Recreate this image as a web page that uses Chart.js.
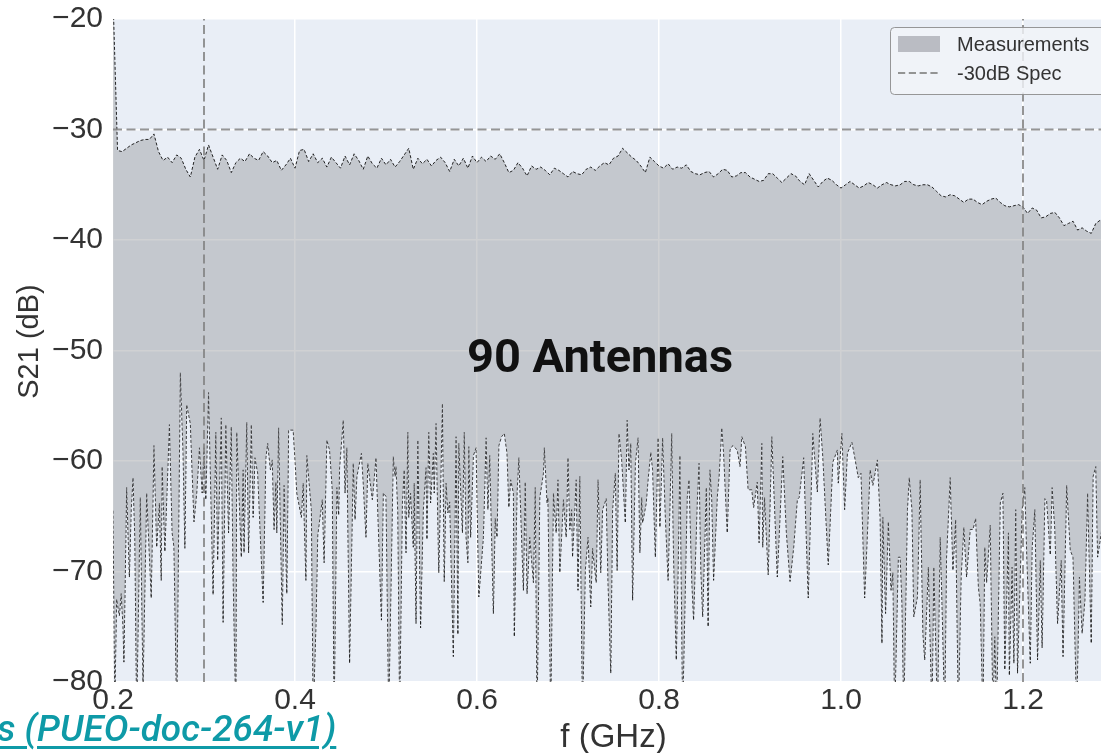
<!DOCTYPE html>
<html>
<head>
<meta charset="utf-8">
<script src="https://cdn.jsdelivr.net/npm/chart.js@4.4.1/dist/chart.umd.min.js"></script>
<style>
  html, body { margin: 0; padding: 0; background: #fff; overflow: hidden; width: 1101px; height: 753px; }
  #wrap { position: absolute; left: 0; top: 0; width: 1130px; height: 753px; }
  #antennas {
    position: absolute; left: 600px; top: 355px; transform: translate(-50%, -50%);
    font: bold 47px Roboto, "Noto Sans", sans-serif; color: #111; line-height: 1; white-space: nowrap;
  }
  #doclink {
    position: absolute; left: -3px; top: 710px;
    font: italic 500 37px Roboto, "Noto Sans", sans-serif; color: #0e9aa7; line-height: 1;
    text-decoration: underline; text-decoration-thickness: 3px; text-underline-offset: 5px; white-space: nowrap;
  }
</style>
</head>
<body>
<div id="wrap"><canvas id="s21Chart"></canvas></div>
<div id="antennas">90 Antennas</div>
<a id="doclink" href="#">s (PUEO-doc-264-v1)</a>
<script>
// upper envelope (max over all antennas), 5 MHz sweep starting at 200 MHz
const sweepStart = 0.2;
const sweepStep = 0.005;
const maxDb = [
  -18, -31.9, -32.0, -31.7, -31.4, -31.2, -31.0, -30.9, -30.9, -30.4,
  -32.0, -32.8, -32.5, -33.0, -32.3, -32.6, -33.6, -34.3, -32.5, -31.8,
  -32.8, -31.4, -32.5, -33.6, -32.3, -32.8, -33.9, -33.0, -32.6, -32.9,
  -32.2, -32.6, -32.8, -32.0, -32.4, -33.0, -32.8, -33.7, -33.2, -32.6,
  -33.5, -31.9, -31.8, -32.9, -32.2, -33.0, -32.6, -33.4, -32.5, -33.0,
  -33.5, -32.4, -33.2, -32.2, -32.8, -33.6, -32.4, -33.1, -33.5, -32.6,
  -33.2, -32.7, -33.4, -32.9, -32.3, -31.7, -33.6, -32.6, -33.1, -32.7,
  -33.3, -32.8, -32.5, -33.0, -33.8, -32.7, -33.3, -32.6, -33.5, -32.4,
  -33.0, -32.5, -32.9, -32.4, -32.7, -32.2, -33.0, -33.9, -33.7, -33.0,
  -33.5, -34.2, -33.3, -33.6, -33.4, -33.7, -34.1, -33.5, -33.7, -34.0,
  -34.3, -33.8, -34.0, -34.1, -33.6, -33.4, -33.7, -33.3, -33.0, -33.2,
  -32.6, -32.4, -31.7, -32.1, -32.5, -32.8, -33.3, -33.9, -32.5, -32.9,
  -33.3, -33.5, -33.1, -33.6, -33.4, -33.5, -33.2, -33.8, -34.0, -34.1,
  -33.9, -33.8, -34.3, -34.0, -33.6, -33.7, -34.3, -34.2, -33.9, -33.9,
  -34.3, -34.5, -34.7, -34.6, -34.0, -34.0, -34.4, -34.8, -34.4, -34.0,
  -34.2, -34.7, -35.0, -34.0, -34.6, -35.2, -34.7, -34.4, -34.6, -35.0,
  -35.3, -35.0, -34.7, -35.0, -35.3, -35.1, -34.8, -35.0, -35.3, -35.0,
  -34.8, -35.0, -35.1, -35.0, -34.7, -34.7, -35.0, -35.1, -35.0, -35.0,
  -35.2, -35.6, -36.0, -36.1, -35.9, -36.0, -36.3, -36.6, -36.3, -36.3,
  -36.6, -36.8, -36.5, -36.3, -36.2, -36.6, -36.9, -37.0, -36.9, -36.8,
  -37.0, -37.6, -37.1, -37.3, -38.0, -37.9, -37.6, -37.5, -38.0, -38.7,
  -38.5, -38.3, -39.1, -38.9, -39.2, -39.4, -38.5, -38.2, -38.0, -38.1,
  -37.9
];

// lower envelope (min over all antennas)
const minMHz = [
  200, 202, 204, 207, 209, 211, 212, 215, 218, 220,
  222, 224, 226, 230, 233, 237, 242, 245, 248, 251,
  253, 254, 257, 262, 265, 267, 270, 274, 277, 279,
  281, 285, 289, 292, 295, 298, 300, 302, 305, 310,
  313, 315, 319, 321, 324, 327, 330, 332, 335, 336,
  341, 343, 344, 347, 349, 352, 354, 356, 359, 365,
  368, 370, 373, 375, 377, 379, 380, 382, 386, 388,
  391, 393, 398, 400, 402, 407, 409, 412, 413, 418,
  420, 423, 425, 430, 432, 435, 438, 441, 443, 446,
  448, 449, 453, 455, 457, 460, 464, 466, 468, 473,
  475, 478, 480, 485, 489, 495, 497, 500, 503, 508,
  510, 511, 513, 515, 518, 520, 522, 524, 525, 527,
  530, 531, 533, 535, 538, 541, 544, 545, 547, 549,
  552, 553, 555, 558, 562, 564, 566, 568, 570, 574,
  577, 579, 580, 584, 586, 588, 590, 591, 593, 596,
  599, 602, 607, 610, 612, 614, 618, 620, 622, 624,
  627, 630, 633, 635, 637, 640, 641, 644, 646, 651,
  653, 655, 658, 662, 664, 666, 669, 673, 674, 677,
  678, 681, 684, 687, 689, 691, 695, 698, 700, 702,
  704, 705, 709, 711, 713, 716, 719, 722, 725, 727,
  731, 733, 736, 738, 742, 744, 747, 749, 752, 754,
  756, 759, 763, 765, 767, 769, 771, 774, 777, 779,
  781, 782, 786, 788, 791, 793, 796, 799, 801, 804,
  807, 810, 814, 816, 819, 821, 823, 826, 831, 833,
  836, 838, 842, 844, 846, 848, 852, 854, 856, 858,
  860, 864, 866, 869, 871, 875, 878, 881, 886, 889,
  891, 895, 898, 902, 904, 908, 910, 913, 914, 916,
  920, 924, 930, 936, 940, 944, 948, 952, 954, 959,
  964, 969, 974, 977, 980, 986, 991, 996, 997, 1001,
  1004, 1007, 1012, 1015, 1019, 1022, 1026, 1032, 1035, 1040,
  1043, 1045, 1046, 1049, 1052, 1055, 1057, 1059, 1063, 1065,
  1067, 1069, 1073, 1075, 1078, 1080, 1084, 1087, 1090, 1092,
  1096, 1100, 1102, 1106, 1109, 1111, 1114, 1116, 1120, 1123,
  1126, 1129, 1132, 1135, 1138, 1142, 1145, 1148, 1151, 1153,
  1156, 1158, 1160, 1164, 1167, 1169, 1171, 1175, 1178, 1180,
  1184, 1185, 1188, 1190, 1192, 1194, 1199, 1202, 1204, 1208,
  1210, 1213, 1216, 1219, 1221, 1224, 1226, 1230, 1232, 1235,
  1238, 1242, 1244, 1248, 1252, 1255, 1259, 1262, 1265, 1268,
  1271, 1275, 1277, 1280, 1282, 1286, 1290, 1296, 1300
];
const minDb = [
  -64.5, -82, -72.5, -74, -72, -75, -78.2, -62.4, -70.5, -64.4,
  -61.5, -67, -83, -63.3, -80.5, -62.9, -72.4, -58.6, -67.8, -63.8,
  -70.8, -60.5, -68.2, -56.7, -66.5, -67.8, -83, -52.0, -59.3, -67.9,
  -54.9, -56.6, -65.5, -62.9, -58.8, -62.9, -58.8, -63.5, -53.8, -72.1,
  -57.4, -69, -56.1, -74.6, -56.7, -66.5, -56.9, -70.5, -83, -57.4,
  -68.7, -60.8, -68.3, -56.5, -68.3, -56.7, -65.1, -59.7, -61.1, -72.8,
  -59.7, -58.4, -60.8, -59.9, -66.2, -61.9, -66.5, -57, -74.8, -62.2,
  -72, -57.2, -57.2, -59.9, -62.9, -65.1, -62, -70.8, -59.5, -64.4,
  -83, -75, -66.7, -63.5, -69.2, -58.1, -59, -62.6, -83, -62.4,
  -64.9, -60.6, -56.3, -62.9, -58.8, -78.3, -60.2, -65.3, -61.4, -59.3,
  -62, -66.9, -60.2, -63.5, -59.7, -74.4, -62.9, -63.2, -83, -59.6,
  -61.4, -60.5, -64.7, -83, -63.8, -60.8, -68.3, -57.4, -65.1, -62.9,
  -67.8, -62, -74.7, -58.1, -75.1, -64.4, -60.6, -67.1, -57.4, -63.8,
  -59.3, -62.9, -56.6, -70.1, -54.8, -70.9, -62, -64.7, -63.7, -77.7,
  -57.8, -75.7, -58.4, -66.5, -57.4, -66.9, -69.2, -58.7, -66.9, -59.5,
  -58.8, -72.3, -66.9, -57.9, -64.4, -59.5, -73.8, -65.2, -66.9, -58.6,
  -57.8, -57.5, -59.3, -64.2, -61.7, -62.9, -75.9, -62.9, -59.7, -71.7,
  -61.9, -72, -66.9, -71, -62.4, -83, -63.3, -61.1, -58.8, -63.8,
  -63.3, -83, -62.9, -66.5, -61.7, -70.1, -63.5, -66.9, -59.7, -66.2,
  -64.4, -68.7, -61.7, -71.7, -61.4, -83, -69.9, -66.9, -73.2, -67.9,
  -71, -61.7, -70.1, -64.4, -63.4, -71, -79.2, -64.4, -61.1, -69.9,
  -57.5, -59.9, -65.6, -56.3, -60.8, -58.4, -72.6, -60.2, -57.9, -68.3,
  -63.3, -65.6, -63.8, -61.7, -59.2, -60.8, -68.7, -57.9, -66, -57.9,
  -65.1, -70.8, -57.5, -68.7, -78, -69.9, -59.5, -83, -63.3, -61.7,
  -70.8, -74.4, -63.8, -60.2, -69.9, -74.1, -62.4, -75, -60.8, -63.5,
  -70.8, -63.3, -61.4, -57, -59.3, -66.5, -59, -58.6, -59, -60.5,
  -57.8, -58.7, -62.6, -62.6, -64.2, -61.9, -67.4, -58.4, -67.8, -63.3,
  -70.3, -57.8, -70.5, -59.6, -66.5, -70.9, -67.8, -63.5, -63.3, -59.7,
  -72.4, -57.5, -62.8, -56.1, -59.6, -69.4, -60.1, -59, -62, -57.5,
  -64.4, -59.3, -58.3, -59.6, -61.5, -61.1, -72.4, -60.8, -62.2, -59.9,
  -65.1, -76.5, -65.1, -73.8, -65.5, -71.7, -70.1, -83, -68.7, -68.7,
  -72.9, -83, -64.4, -61.5, -64.4, -74.1, -72.3, -61.7, -75.6, -78,
  -69.6, -83, -69.6, -83, -66.9, -72.9, -83, -68.7, -61.5, -69.9,
  -65.3, -83, -70.5, -66, -70.5, -66.2, -66.2, -65.2, -71.4, -72.9,
  -83, -67.8, -71, -65.8, -83, -75.9, -83, -63.8, -62.9, -78.9,
  -66.5, -79.4, -69.6, -78.3, -64.4, -79.2, -64.4, -62.4, -68.1, -78.3,
  -67.9, -64.4, -78, -69, -76.9, -63.4, -63.6, -68.5, -62.4, -66.2,
  -74.7, -69, -77.7, -62.2, -68.1, -68.7, -83, -70.5, -75.6, -72.6,
  -62.9, -76.5, -61.4, -60.5, -68.7, -66.5, -64, -70, -66
];

const specDb = -30;
const bandEdges = [0.3, 1.2];
const xTicks = [0.2, 0.4, 0.6, 0.8, 1.0, 1.2];
const yTicks = [-80, -70, -60, -50, -40, -30, -20];

const axisFont = '"Liberation Sans", Arial, sans-serif';
const textColor = '#333';
const plotBg = '#e9eef6';
const bandFill = 'rgba(150, 152, 158, 0.45)';
const envelopeStyle = { borderColor: 'rgba(15,15,15,0.9)', borderWidth: 1, borderDash: [3, 2] };
const markerStyle = { borderColor: 'rgba(130,130,130,0.85)', borderWidth: 2, borderDash: [9, 4.5] };

const maxPoints = maxDb.map((v, i) => ({ x: sweepStart + i * sweepStep, y: v }));
const minPoints = minDb.map((v, i) => ({ x: minMHz[i] / 1000, y: v }));

const plotBackground = {
  id: 'plotBackground',
  beforeDraw(chart) {
    const { ctx, chartArea: a } = chart;
    ctx.save();
    ctx.fillStyle = plotBg;
    ctx.fillRect(a.left, a.top, a.right - a.left, a.bottom - a.top);
    ctx.restore();
  }
};

// y axis title, sitting a little above the axis centre
const yTitle = {
  id: 'yTitle',
  afterDraw(chart) {
    const { ctx, chartArea: a } = chart;
    ctx.save();
    ctx.translate(30, (a.top + a.bottom) / 2 - 9);
    ctx.rotate(-Math.PI / 2);
    ctx.fillStyle = textColor;
    ctx.font = '29px ' + axisFont;
    ctx.textAlign = 'center';
    ctx.textBaseline = 'middle';
    ctx.fillText('S21 (dB)', 0, 0);
    ctx.restore();
  }
};

// boxed legend in the upper right corner, drawn over the curves
const legendBox = {
  id: 'legendBox',
  afterDraw(chart) {
    const { ctx, chartArea: a } = chart;
    const w = 224, h = 67;
    const left = a.right - w, top = a.top + 8;
    ctx.save();
    ctx.beginPath();
    ctx.roundRect(left + 0.5, top + 0.5, w, h, 4);
    ctx.fillStyle = 'rgba(241, 244, 249, 0.8)';
    ctx.fill();
    ctx.strokeStyle = 'rgba(140, 140, 140, 0.9)';
    ctx.lineWidth = 1;
    ctx.stroke();

    ctx.fillStyle = 'rgba(150, 152, 160, 0.6)';
    ctx.fillRect(left + 8, top + 9, 42, 16);

    ctx.beginPath();
    ctx.setLineDash(markerStyle.borderDash.map(d => d * 0.8));
    ctx.strokeStyle = markerStyle.borderColor;
    ctx.lineWidth = markerStyle.borderWidth;
    ctx.moveTo(left + 8, top + 46);
    ctx.lineTo(left + 50, top + 46);
    ctx.stroke();
    ctx.setLineDash([]);

    ctx.fillStyle = textColor;
    ctx.font = '20px ' + axisFont;
    ctx.textBaseline = 'middle';
    ctx.fillText('Measurements', left + 67, top + 18);
    ctx.fillText('-30dB Spec', left + 67, top + 47);
    ctx.restore();
  }
};

const minus = v => (v < 0 ? '\u2212' + Math.abs(v) : String(v));

// keep tick labels from pushing the plot area inward
const noOverhang = s => { s.paddingTop = 0; s.paddingBottom = 0; s.paddingLeft = 0; s.paddingRight = 0; };

new Chart(document.getElementById('s21Chart'), {
  type: 'line',
  data: {
    datasets: [
      {
        label: '-30dB Spec',
        data: [{ x: 0.2, y: specDb }, { x: 1.3, y: specDb }],
        ...markerStyle, pointRadius: 0, fill: false
      },
      ...bandEdges.map(f => ({
        label: 'edge ' + f,
        data: [{ x: f, y: -80 }, { x: f, y: -20 }],
        ...markerStyle, pointRadius: 0, fill: false
      })),
      {
        label: 'Measurements',
        data: maxPoints,
        ...envelopeStyle, pointRadius: 0, tension: 0,
        fill: '+1', backgroundColor: bandFill
      },
      {
        label: 'min',
        data: minPoints,
        ...envelopeStyle, pointRadius: 0, tension: 0, fill: false
      }
    ]
  },
  options: {
    responsive: true,
    maintainAspectRatio: false,
    animation: false,
    layout: { padding: { top: 19, right: 16, left: 0, bottom: 0 } },
    plugins: { legend: { display: false }, tooltip: { enabled: false } },
    scales: {
      x: {
        type: 'linear',
        min: 0.2,
        max: 1.3,
        afterBuildTicks: s => { s.ticks = xTicks.map(v => ({ value: v })); },
        afterFit: s => { s.height = 71; noOverhang(s); },
        ticks: {
          padding: 1, maxRotation: 0, autoSkip: false, color: textColor,
          font: { size: 30, family: axisFont },
          callback: v => v.toFixed(1)
        },
        grid: { color: '#ffffff', lineWidth: 1.5, drawTicks: false },
        border: { display: false },
        title: {
          display: true, text: 'f (GHz)', color: textColor,
          font: { size: 33, family: axisFont, lineHeight: 0.9 }, padding: { top: 0, bottom: 0 }
        }
      },
      y: {
        min: -80,
        max: -20,
        afterBuildTicks: s => { s.ticks = yTicks.map(v => ({ value: v })); },
        afterFit: s => { s.width = 113; noOverhang(s); },
        ticks: {
          padding: 10, color: textColor,
          font: { size: 30, family: axisFont },
          callback: minus
        },
        grid: { color: '#ffffff', lineWidth: 1.5, drawTicks: false },
        border: { display: false },
        title: { display: false }
      }
    }
  },
  plugins: [plotBackground, yTitle, legendBox]
});
</script>
</body>
</html>
